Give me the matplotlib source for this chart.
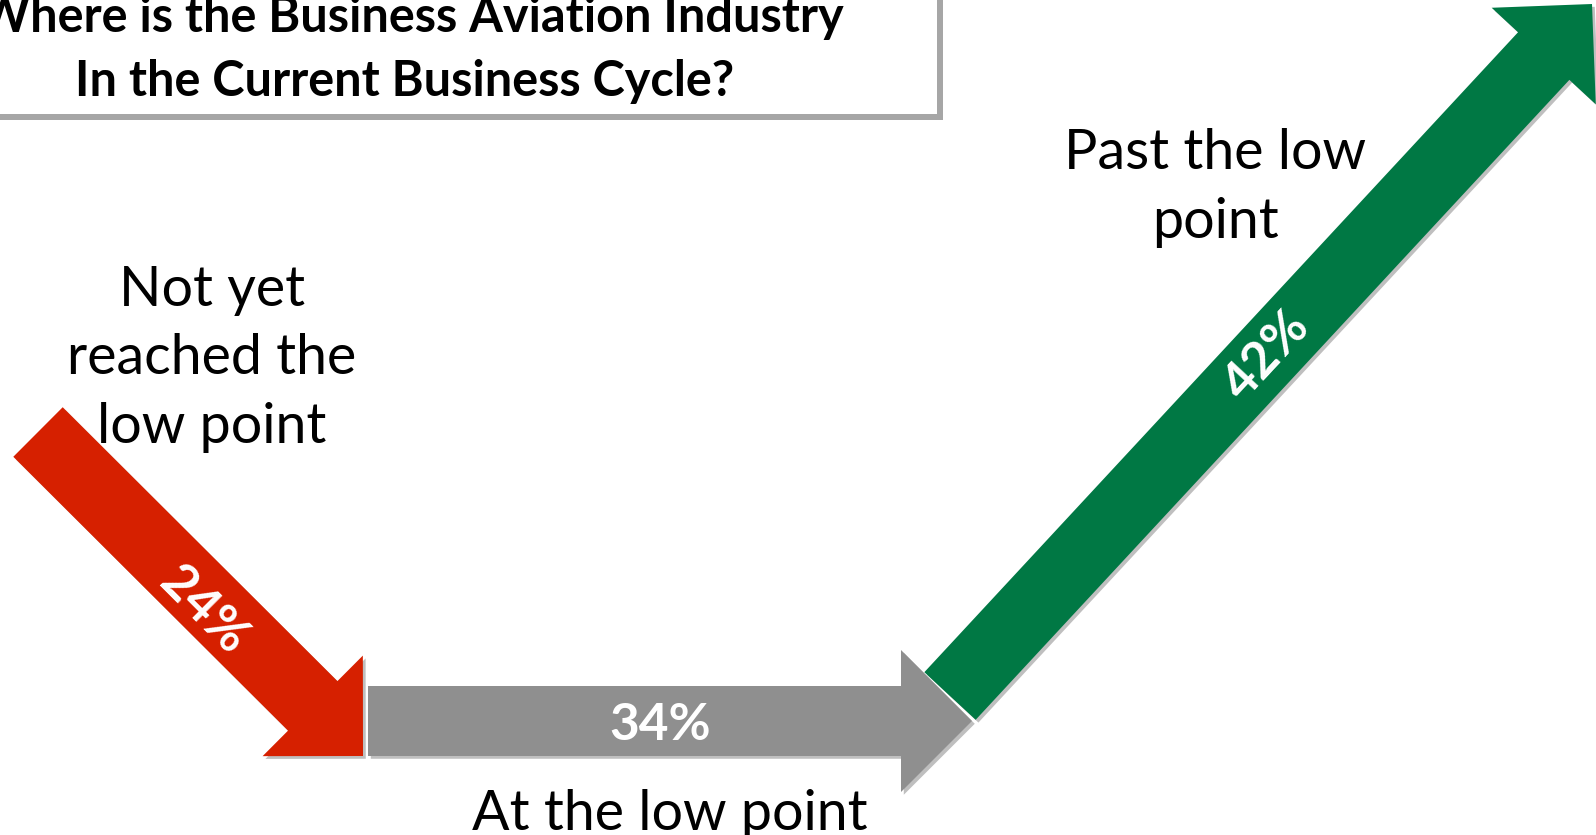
import matplotlib.pyplot as plt
from matplotlib.patches import FancyArrow, Rectangle
import matplotlib.patheffects as pe

# survey shares for each stage of the cycle
stages = ["Not yet\nreached the\nlow point", "At the low point", "Past the low\npoint"]
shares = [24, 34, 42]
colors = ["#D62000", "#8F8F8F", "#007844"]
title_lines = ["Where is the Business Aviation Industry", "In the Current Business Cycle?"]

# arrow geometry in pixel coords (start, end)
arrow_start = [(38, 432), (368, 721), (950, 696)]
arrow_end = [(363, 756), (972, 721), (1592, 4)]
pct_pos = [(203, 611), (660, 725), (1267, 356)]
pct_rot = [-45, 0, 47]
stage_pos = [(212, 359), (670, 815), (1215, 188)]

fig = plt.figure(figsize=(15.96, 8.35), dpi=100)
ax = fig.add_axes([0, 0, 1, 1])
ax.set_xlim(0, 1596)
ax.set_ylim(835, 0)
ax.axis("off")

shadow = [pe.SimplePatchShadow(offset=(2, -2), shadow_rgbFace="black", alpha=0.25), pe.Normal()]

for i in range(3):
    (x0, y0), (x1, y1) = arrow_start[i], arrow_end[i]
    arr = FancyArrow(x0, y0, x1 - x0, y1 - y0, width=70, head_width=142, head_length=71,
                     length_includes_head=True, color=colors[i], lw=0, zorder=2 + i)
    arr.set_path_effects(shadow)
    ax.add_patch(arr)
    ax.text(pct_pos[i][0], pct_pos[i][1], f"{shares[i]}%", color="white", fontsize=37,
            fontweight="bold", family="Lato", rotation=pct_rot[i], ha="center", va="center",
            rotation_mode="anchor", zorder=10)
    ax.text(stage_pos[i][0], stage_pos[i][1], stages[i], fontsize=40, family="Lato",
            ha="center", va="center", linespacing=1.43, zorder=10)

# title box
box = Rectangle((-20, -20), 957, 134, facecolor="white", edgecolor="none", zorder=5)
box.set_path_effects([pe.SimplePatchShadow(offset=(4, -4), shadow_rgbFace="gray", alpha=0.7), pe.Normal()])
ax.add_patch(box)
ax.text(411, 17, title_lines[0], fontsize=35, fontweight="bold", family="Lato",
        ha="center", va="center", zorder=6)
ax.text(405, 81, title_lines[1], fontsize=35, fontweight="bold", family="Lato",
        ha="center", va="center", zorder=6)

fig.savefig("out.png", dpi=100)
